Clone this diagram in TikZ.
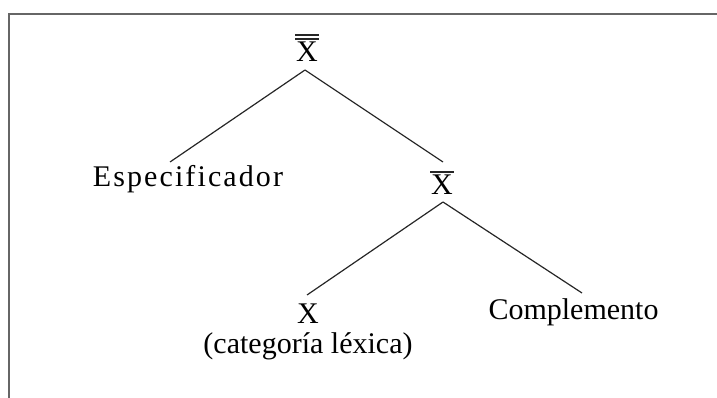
\documentclass[tikz,border=0pt]{standalone}
\usepackage{fontspec}
\setmainfont{Liberation Serif}
\newfontfamily\spacedfont[LetterSpace=7]{Liberation Serif}
\begin{document}
\begin{tikzpicture}[x=1pt,y=-1pt,
  lbl/.style={inner sep=0pt,anchor=base,font=\fontsize{30}{36}\selectfont},
  edge/.style={line width=1.2pt,black!85},
  barline/.style={line width=1.6pt,black!85},
  frame/.style={line width=1.5pt,black!60}]
\useasboundingbox (0,0) rectangle (717,398);
\draw[frame] (9,398) |- (717,14);
% nodes
\node[lbl] (top) at (307,62) {X};
\node[lbl,font=\fontsize{30}{36}\spacedfont] (esp) at (188,187) {Especificador};
\node[lbl] (xbar) at (442,195) {X};
\node[lbl] (x) at (308,323) {X};
\node[lbl] (lex) at (308,353) {(categoría léxica)};
\node[lbl] (comp) at (573.5,319) {Complemento};
% bars
\draw[barline] ([xshift=-12pt,yshift=27pt]top.base) -- ([xshift=12pt,yshift=27pt]top.base);
\draw[barline] ([xshift=-12pt,yshift=23pt]top.base) -- ([xshift=12pt,yshift=23pt]top.base);
\draw[barline] ([xshift=-12pt,yshift=23pt]xbar.base) -- ([xshift=12pt,yshift=23pt]xbar.base);
% edges
\draw[edge] ([xshift=-2pt,yshift=-8pt]top.base) -- ([xshift=-18pt,yshift=25pt]esp.base);
\draw[edge] ([xshift=-2pt,yshift=-8pt]top.base) -- ([xshift=1pt,yshift=33pt]xbar.base);
\draw[edge] ([xshift=1pt,yshift=-7pt]xbar.base) -- ([xshift=-1pt,yshift=28pt]x.base);
\draw[edge] ([xshift=1pt,yshift=-7pt]xbar.base) -- ([xshift=8.5pt,yshift=26pt]comp.base);
\end{tikzpicture}
\end{document}
